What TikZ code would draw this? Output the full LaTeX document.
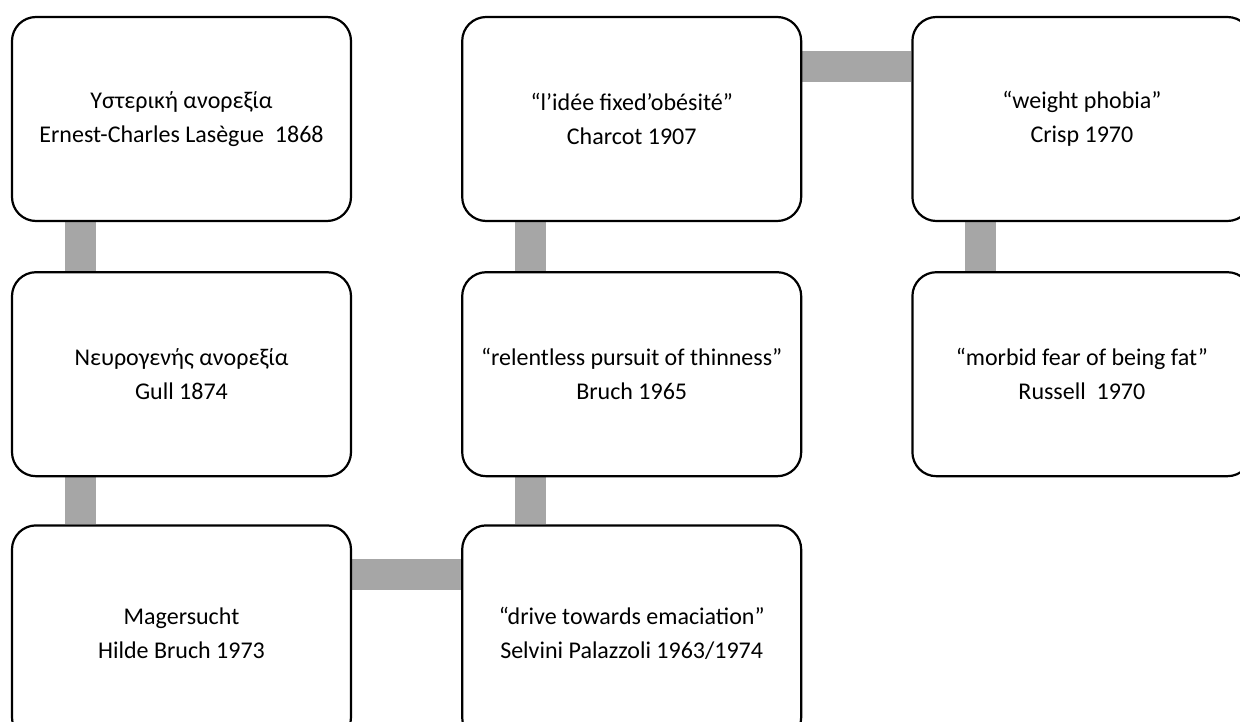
\documentclass[tikz,border=0pt]{standalone}
\usepackage{fontspec}
\setmainfont{Carlito}
\usetikzlibrary{positioning,backgrounds}
\definecolor{linkgray}{RGB}{166,166,166}
\tikzset{
    stage/.style={draw, rounded corners=24pt, line width=2.2pt, fill=white, minimum width=339pt, minimum height=204pt, align=center, font=\fontsize{24}{34}\selectfont},
    link/.style={draw=linkgray, line width=31pt},
}

\begin{document}
\begin{tikzpicture}[x=1pt, y=-1pt, node distance=49pt and 109pt]
    \useasboundingbox (0,0) rectangle (1240,722);

    \node[stage] (lasegue) at (181.5,119) {Υστερική ανορεξία\\Ernest-Charles Lasègue\ \ 1868};
    \node[stage, below=of lasegue] (gull) {Νευρογενής ανορεξία\\Gull 1874};
    \node[stage, below=47pt of gull, minimum height=216pt] (magersucht) {Magersucht\\Hilde Bruch 1973};
    \node[stage, right=of magersucht, minimum height=216pt] (selvini) {“drive towards emaciation”\\Selvini Palazzoli 1963/1974};
    \node[stage, right=of gull] (bruch) {“relentless pursuit of thinness”\\Bruch 1965};
    \node[stage, right=of lasegue] (charcot) {“l’idée fixed’obésité”\\Charcot 1907};
    \node[stage, right=of charcot] (crisp) {“weight phobia”\\Crisp 1970};
    \node[stage, below=of crisp] (russell) {“morbid fear of being fat”\\Russell\ \ 1970};

    \begin{scope}[on background layer]
        \draw[link] ([xshift=69.5pt]lasegue.south west) -- ([xshift=69.5pt]gull.north west);
        \draw[link] ([xshift=69.5pt]gull.south west) -- ([xshift=69.5pt]magersucht.north west);
        \draw[link] ([yshift=-50pt]magersucht.north east) -- ([yshift=-50pt]selvini.north west);
        \draw[link] ([xshift=69.5pt]selvini.north west) -- ([xshift=69.5pt]bruch.south west);
        \draw[link] ([xshift=69.5pt]bruch.north west) -- ([xshift=69.5pt]charcot.south west);
        \draw[link] ([yshift=-51pt]charcot.north east) -- ([yshift=-51pt]crisp.north west);
        \draw[link] ([xshift=69.5pt]crisp.south west) -- ([xshift=69.5pt]russell.north west);
    \end{scope}
\end{tikzpicture}
\end{document}
